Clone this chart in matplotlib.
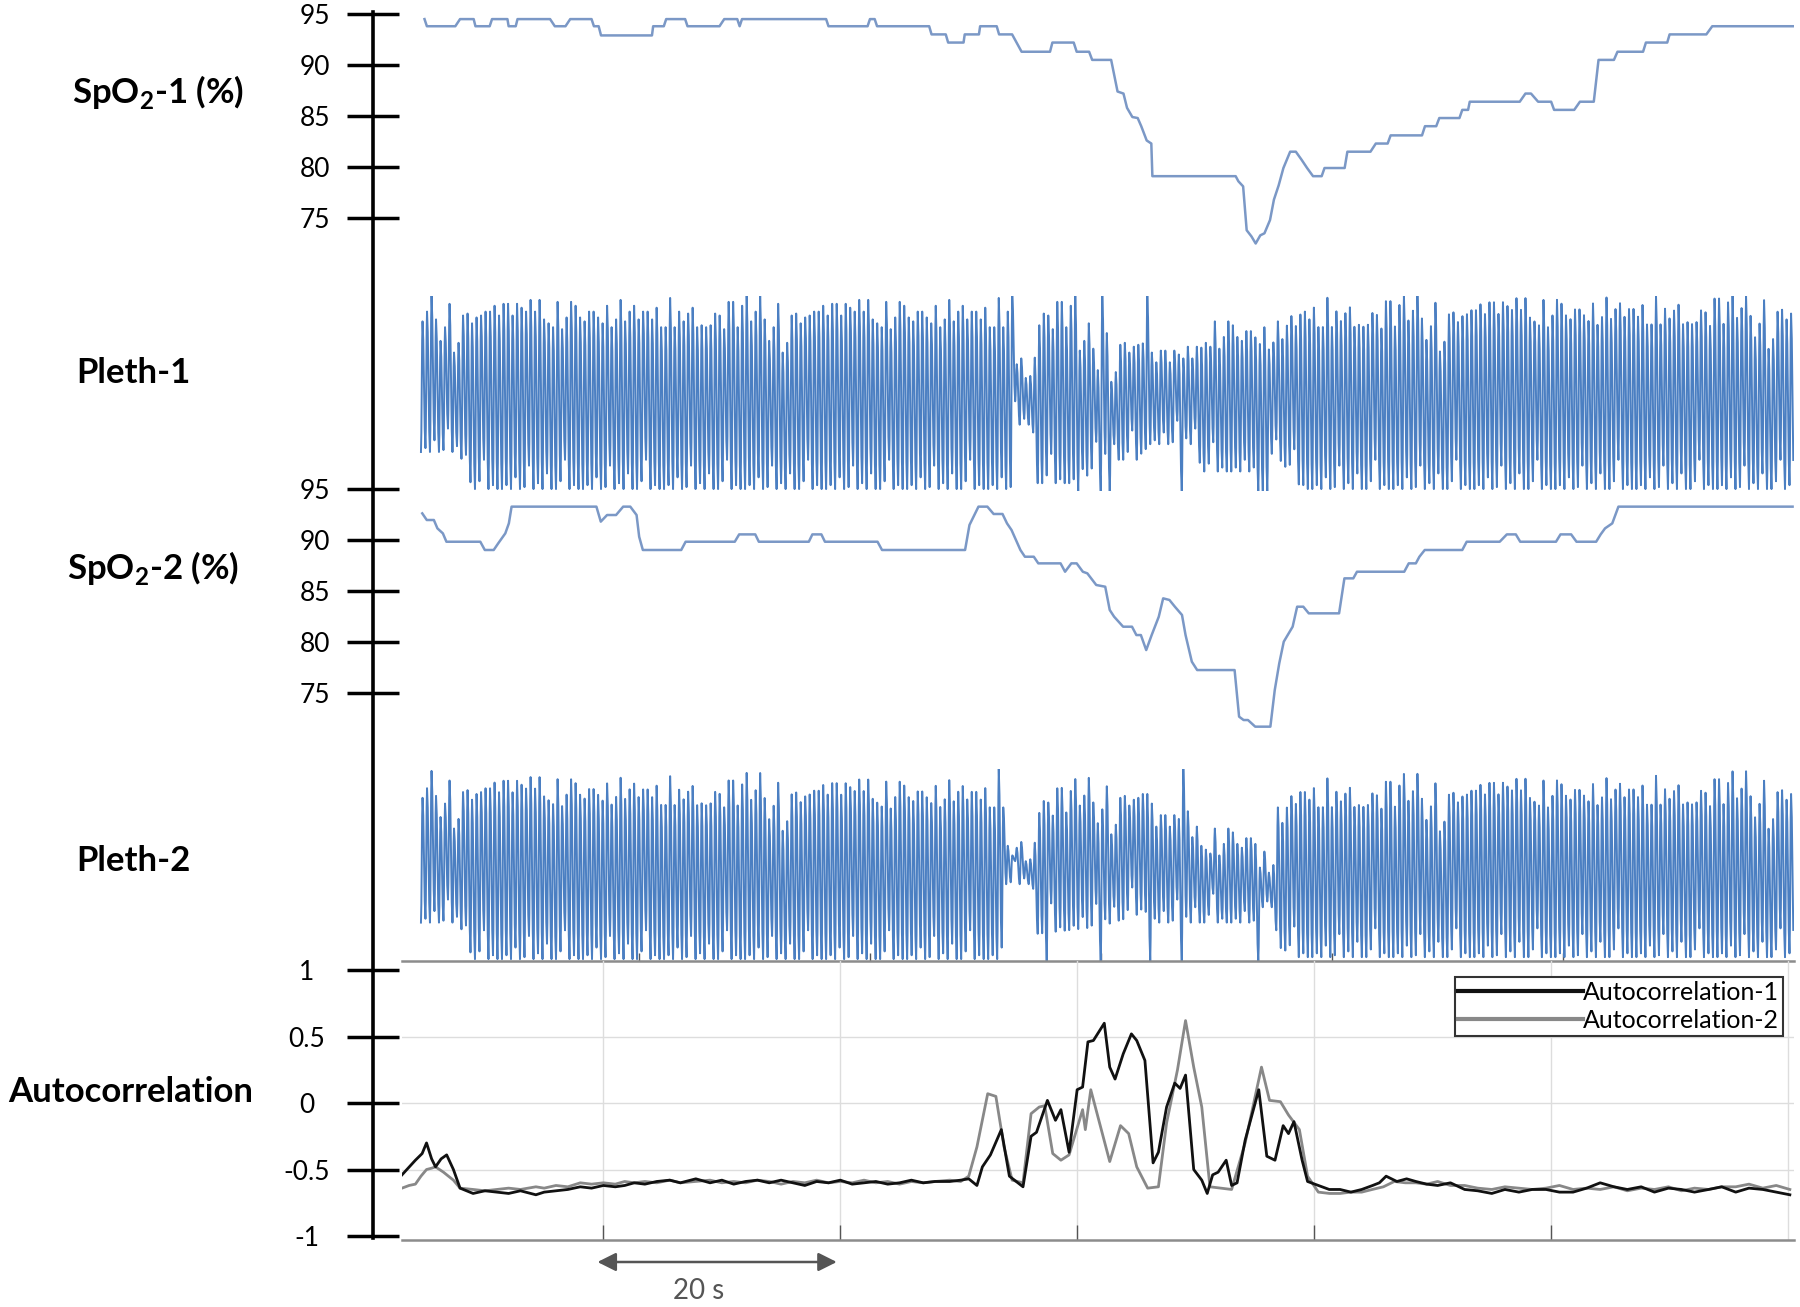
import numpy as np
import matplotlib.pyplot as plt
from matplotlib.lines import Line2D

plt.rcParams['font.family'] = ['Lato', 'DejaVu Sans']
plt.rcParams['mathtext.fontset'] = 'custom'
plt.rcParams['mathtext.rm'] = 'Lato'
plt.rcParams['mathtext.bf'] = 'Lato:bold'

W, H = 1800, 1307
T_END = 117.5

# ---- SpO2-1 (%) : time (s), value
spo2_1_t = [1.9, 2.1, 4.5, 4.9, 6.05, 6.2, 7.4, 7.6, 8.9, 9.0, 9.6, 9.75, 12.5, 12.9, 13.8, 14.2,
            16.0, 16.2, 16.6, 16.8, 21.1, 21.2, 22.1, 22.3, 23.9, 24.1, 26.8, 27.2, 28.3, 28.5, 28.7,
            35.8, 36.0, 39.3, 39.5, 39.9, 40.1, 44.5, 44.7, 45.9, 46.1, 47.4, 47.5, 48.7, 48.8, 50.2,
            50.4, 51.5, 52.3, 54.7, 54.9, 56.7, 56.95, 58.0, 58.26, 59.86, 60.4, 60.9, 61.2, 61.65,
            62.1, 62.4, 62.86, 63.25, 63.34, 70.37, 70.6, 71.0, 71.3, 71.7, 72.06, 72.45, 72.8, 73.27,
            73.6, 74.0, 74.4, 74.97, 75.45, 75.94, 76.4, 76.9, 77.63, 77.87, 79.57, 79.8, 81.75, 82.2,
            83.2, 83.45, 86.1, 86.35, 87.3, 87.56, 89.26, 89.5, 89.99, 90.13, 94.35, 94.83, 95.3,
            95.9, 97.0, 97.25, 98.95, 99.43, 100.6, 101.0, 102.3, 102.6, 104.76, 105.0, 106.8, 107.0,
            110.1, 110.6, 117.4]
spo2_1_v = [94.5, 93.8, 93.8, 94.5, 94.5, 93.8, 93.8, 94.5, 94.5, 93.8, 93.8, 94.5, 94.5, 93.8, 93.8, 94.5,
            94.5, 93.8, 93.8, 92.9, 92.9, 93.8, 93.8, 94.5, 94.5, 93.8, 93.8, 94.5, 94.5, 93.8, 94.5,
            94.5, 93.8, 93.8, 94.5, 94.5, 93.8, 93.8, 93.0, 93.0, 92.2, 92.2, 93.0, 93.0, 93.8, 93.8,
            93.0, 93.0, 91.3, 91.3, 92.2, 92.2, 91.3, 91.3, 90.5, 90.5, 87.4, 87.2, 85.8, 84.9,
            84.8, 84.0, 82.6, 82.3, 79.1, 79.1, 78.6, 78.1, 73.8, 73.2, 72.5, 73.3, 73.5, 74.8,
            76.8, 78.2, 79.9, 81.5, 81.5, 80.7, 79.9, 79.1, 79.1, 79.9, 79.9, 81.5, 81.5, 82.3,
            82.3, 83.1, 83.1, 84.0, 84.0, 84.8, 84.8, 85.6, 85.6, 86.4, 86.4, 87.2, 87.2,
            86.4, 86.4, 85.6, 85.6, 86.4, 86.4, 90.5, 90.5, 91.3, 91.3, 92.2, 92.2, 93.0,
            93.0, 93.8, 93.8]

# ---- SpO2-2 (%)
spo2_2_t = [1.71, 2.09, 2.69, 2.99, 3.45, 3.75, 6.61, 6.99, 7.74, 8.12, 8.72, 9.02, 9.25, 16.41, 16.78,
            17.31, 18.07, 18.67, 19.27, 19.80, 20.02, 20.33, 23.57, 23.94, 28.09, 28.46, 29.82, 30.12,
            34.34, 34.64, 35.40, 35.70, 40.14, 40.52, 47.53, 47.90, 48.66, 49.41, 49.94, 50.69, 51.07,
            51.45, 52.20, 52.58, 53.33, 53.71, 55.59, 55.97, 56.50, 56.95, 57.47, 57.85, 58.60, 59.36,
            59.74, 60.11, 60.87, 61.62, 61.99, 62.37, 62.82, 63.28, 63.88, 64.25, 64.78, 65.24, 65.84,
            66.14, 66.67, 67.12, 70.28, 70.66, 71.04, 71.41, 72.02, 73.30, 73.67, 74.05, 74.43, 75.18,
            75.56, 76.08, 76.54, 79.10, 79.55, 80.30, 80.61, 84.60, 84.98, 85.58, 85.88, 86.33, 89.50,
            89.87, 92.66, 93.26, 94.02, 94.39, 97.41, 97.79, 98.69, 99.14, 100.80, 101.18, 101.55,
            102.16, 102.68, 117.38]
spo2_2_v = [92.61, 91.96, 91.96, 91.14, 90.65, 89.83, 89.83, 89.02, 89.02, 89.67, 90.65, 91.63, 93.27, 93.27, 91.80,
            92.45, 92.45, 93.27, 93.27, 92.45, 90.32, 89.02, 89.02, 89.83, 89.83, 90.55, 90.55, 89.83,
            89.83, 90.55, 90.55, 89.83, 89.83, 89.02, 89.02, 91.47, 93.27, 93.27, 92.55, 92.55, 91.63,
            90.98, 89.02, 88.36, 88.36, 87.71, 87.71, 86.89, 87.71, 87.71, 86.89, 86.73, 85.59, 85.42,
            83.14, 82.48, 81.50, 81.50, 80.68, 80.68, 79.21, 80.68, 82.48, 84.28, 84.12, 83.46, 82.65,
            80.68, 78.07, 77.25, 77.25, 72.68, 72.35, 72.35, 71.70, 71.70, 75.29, 77.91, 80.03, 81.50,
            83.46, 83.46, 82.81, 82.81, 86.24, 86.24, 86.89, 86.89, 87.71, 87.71, 88.36, 89.02, 89.02,
            89.83, 89.83, 90.55, 90.55, 89.83, 89.83, 90.55, 90.55, 89.83, 89.83, 90.55, 91.14,
            91.63, 93.27, 93.27]

# ---- Pleth envelopes (fraction of panel height): time, upper, lower
pleth1_env_t = [1.6, 4.8, 6.0, 50.5, 51.4, 51.6, 53.2, 53.4, 56.7, 57.0, 59.0, 62.3, 63.0, 67.0, 67.5, 71.7, 73.6, 76.0, 117.2]
pleth1_env_top = [0.90, 0.90, 0.90, 0.90, 0.90, 0.64, 0.64, 0.90, 0.90, 0.75, 0.75, 0.75, 0.66, 0.66, 0.80, 0.80, 0.78, 0.90, 0.92]
pleth1_env_bot = [0.20, 0.20, 0.01, 0.01, 0.01, 0.34, 0.34, 0.04, 0.04, 0.02, 0.16, 0.16, 0.24, 0.24, 0.10, 0.10, 0.20, 0.01, 0.01]
pleth1_spikes = [51.3, 58.9, 62.7]
pleth1_drops = [57.1, 58.8, 59.9, 65.9, 72.2, 72.7, 73.1]

pleth2_env_t = [1.6, 4.8, 6.0, 50.3, 50.8, 51.0, 53.2, 53.4, 59.0, 63.0, 63.3, 66.3, 66.6, 72.0, 72.3, 73.5, 73.8, 75.6, 117.2]
pleth2_env_top = [0.88, 0.88, 0.88, 0.86, 0.86, 0.58, 0.58, 0.82, 0.85, 0.85, 0.70, 0.70, 0.62, 0.62, 0.52, 0.52, 0.72, 0.86, 0.88]
pleth2_env_bot = [0.20, 0.20, 0.01, 0.01, 0.01, 0.40, 0.40, 0.14, 0.18, 0.26, 0.20, 0.20, 0.20, 0.20, 0.28, 0.28, 0.08, 0.02, 0.02]
pleth2_spikes = [50.4, 65.9]
pleth2_drops = [54.4, 59.1, 63.0, 65.9, 72.2]

beat_period = 0.38
peak_heights = [0.86, 0.91, 1.0, 0.87, 0.76, 0.83, 0.95, 0.70, 0.75, 0.89, 0.90, 0.85, 0.88, 0.89, 0.91, 0.91,
                0.94, 0.89, 0.95, 0.95, 0.89, 0.95, 0.93, 0.91, 0.97, 0.91, 0.97, 0.87, 0.85, 0.83, 0.96, 0.82,
                0.88, 0.96, 0.94, 0.88, 0.86, 0.91, 0.91, 0.88, 0.85, 0.94, 0.83, 0.87, 0.97, 0.86, 0.91, 0.94,
                0.87, 0.91, 0.91, 0.87, 0.93, 0.83, 0.83, 0.98, 0.83, 0.91, 0.86, 0.90, 0.93, 0.83, 0.84, 0.83,
                0.84, 0.90, 0.89, 0.82, 0.96, 0.96, 0.83, 0.94, 1.0]
trough_depths = [0.0, 0.02, 0.0, 0.06, 0.0, 0.01, 0.12, 0.0, 0.03, 0.0, 0.08, 0.0, 0.0, 0.04, 0.15, 0.0, 0.02, 0.0]

# ---- Autocorrelation
ac1_t = [0, 1.13, 1.7, 2.07, 2.5, 2.83, 3.3, 3.77, 4.34, 4.9, 6, 7, 8, 9, 10, 11.3, 12, 13, 14, 15.05,
         16, 17, 18, 18.8, 19.6, 20.5, 21.5, 22.6, 23.5, 24.8, 26, 27, 28, 29, 30, 31, 32, 33, 34, 35,
         36, 37, 38, 39, 40, 41, 42, 43, 44, 45,
         46.24, 47.16, 47.84, 48.53, 48.99, 49.67, 50.59, 51.27, 52.42, 53.1, 53.56, 54.48, 55.16, 55.62,
         56.31, 56.99, 57.45, 57.9, 58.36, 59.28, 59.74, 60.19, 60.88, 61.57, 62.02, 62.71, 63.40, 63.85,
         64.54, 65.23, 65.68, 66.14, 66.83, 67.51, 67.97, 68.43, 68.89, 69.57, 70.03, 70.49, 71.17, 72.32,
         73.0, 73.69, 74.38, 74.83, 75.29, 75.98, 76.44, 77.35,
         78.27, 79.18, 80.1, 81.01, 81.93, 82.5, 83.07, 83.98, 84.8, 85.58, 86.5, 87.42, 88.5, 89.7, 90.8,
         91.99, 93.1, 94.28, 95.4, 96.57, 97.7, 98.85, 100.0, 101.14, 102.3, 103.43, 104.6, 105.72, 106.9,
         108.0, 109.1, 110.29, 111.4, 112.58, 113.7, 114.87, 116.0, 117.15]
ac1_v = [-0.54, -0.43, -0.38, -0.30, -0.42, -0.48, -0.42, -0.39, -0.50, -0.64, -0.68, -0.66, -0.67, -0.68,
         -0.66, -0.69, -0.67, -0.66, -0.65, -0.63, -0.64, -0.62, -0.63, -0.62, -0.60, -0.61, -0.59, -0.58,
         -0.60, -0.57, -0.60, -0.58, -0.61, -0.59, -0.58, -0.60, -0.58, -0.60, -0.62, -0.59, -0.60, -0.58,
         -0.61, -0.60, -0.59, -0.61, -0.60, -0.58, -0.60, -0.59,
         -0.59, -0.58, -0.57, -0.62, -0.48, -0.39, -0.20, -0.55, -0.63, -0.25, -0.22, 0.02, -0.13, -0.05,
         -0.37, 0.10, 0.12, 0.46, 0.47, 0.60, 0.27, 0.18, 0.37, 0.52, 0.47, 0.32, -0.45, -0.37,
         -0.03, 0.15, 0.11, 0.21, -0.50, -0.58, -0.68, -0.54, -0.52, -0.43, -0.62, -0.60, -0.28, 0.10,
         -0.40, -0.43, -0.17, -0.23, -0.14, -0.43, -0.59, -0.62,
         -0.65, -0.65, -0.67, -0.65, -0.62, -0.60, -0.55, -0.59, -0.57, -0.59, -0.61, -0.62, -0.60, -0.65,
         -0.66, -0.68, -0.65, -0.67, -0.65, -0.65, -0.67, -0.67, -0.64, -0.60, -0.63, -0.65, -0.63, -0.67,
         -0.64, -0.65, -0.67, -0.65, -0.63, -0.67, -0.64, -0.65, -0.67, -0.69]

ac2_t = [0, 0.6, 1.13, 1.6, 2.07, 2.5, 2.83, 3.5, 4.34, 4.9, 6, 7, 8, 9, 10, 11.3, 12, 13, 14, 15.05,
         16, 17, 18, 18.8, 19.6, 20.5, 21.5, 22.6, 23.5, 24.8, 26, 27, 28, 29, 30, 31, 32, 33, 34, 35,
         36, 37, 38, 39, 40, 41, 42, 43, 44, 45,
         46.24, 47.16, 47.84, 48.53, 49.44, 50.13, 50.82, 51.5, 52.42, 53.1, 53.79, 54.25, 54.93, 55.62,
         56.31, 57.45, 57.68, 58.14, 58.82, 59.74, 60.65, 61.34, 62.02, 62.94, 63.85, 64.54, 65.46, 66.14,
         66.83, 67.51, 68.2, 69.12, 70.03, 71.17, 72.55, 73.23, 74.15, 74.83, 75.75, 76.44,
         77.35, 78.3, 79.18, 80.1, 81.01, 81.9, 82.84, 83.76, 84.7, 85.58, 86.5, 87.42, 88.5, 89.7, 90.8,
         91.99, 93.1, 94.3, 95.4, 96.57, 97.7, 98.85, 100.0, 101.14, 102.3, 103.43, 104.6, 105.72, 106.9,
         108.0, 109.1, 110.29, 111.4, 112.58, 113.7, 114.87, 116.0, 117.15]
ac2_v = [-0.64, -0.62, -0.61, -0.55, -0.50, -0.49, -0.48, -0.52, -0.58, -0.64, -0.65, -0.66, -0.65, -0.64,
         -0.65, -0.63, -0.64, -0.62, -0.63, -0.60, -0.61, -0.60, -0.61, -0.59, -0.60, -0.59, -0.60, -0.58,
         -0.60, -0.59, -0.58, -0.60, -0.59, -0.60, -0.58, -0.59, -0.61, -0.59, -0.60, -0.58, -0.60, -0.59,
         -0.60, -0.58, -0.60, -0.59, -0.61, -0.59, -0.60, -0.59,
         -0.58, -0.59, -0.55, -0.33, 0.07, 0.05, -0.33, -0.58, -0.60, -0.08, -0.03, -0.02, -0.38, -0.43,
         -0.39, -0.05, -0.20, 0.10, -0.13, -0.44, -0.17, -0.23, -0.48, -0.64, -0.63, -0.15, 0.25, 0.62,
         0.27, -0.03, -0.63, -0.64, -0.65, -0.30, 0.27, 0.02, 0.01, -0.09, -0.20, -0.55,
         -0.67, -0.68, -0.68, -0.67, -0.67, -0.65, -0.63, -0.59, -0.60, -0.60, -0.61, -0.59, -0.62, -0.62,
         -0.64, -0.65, -0.63, -0.64, -0.65, -0.64, -0.62, -0.65, -0.64, -0.65, -0.63, -0.66, -0.64, -0.65,
         -0.63, -0.66, -0.64, -0.65, -0.63, -0.63, -0.61, -0.64, -0.62, -0.65]

ac_grid_t = [17, 37, 57, 77, 97, 117]
ac_tick_t = [17, 37, 57, 77, 97]
pleth2_tick_t = [20, 39.5, 59, 78.5, 98]

PLETH_C = '#4b7fc2'
SPO2_C = '#7b98c6'


def px_axes(x0, y0, x1, y1):
    return fig.add_axes([x0 / W, 1 - y1 / H, (x1 - x0) / W, (y1 - y0) / H])


def pleth_trace(env_t, env_top, env_bot, spikes, drops, t0, t1):
    beats = np.arange(t0, t1, beat_period)
    tops, bots = [], []
    for i, tb in enumerate(beats):
        top = np.interp(tb, env_t, env_top) + peak_heights[i % len(peak_heights)] - 0.89
        bot = np.interp(tb, env_t, env_bot) + trough_depths[i % len(trough_depths)]
        if any(abs(tb - s) < beat_period / 2 for s in spikes):
            top = 1.0
        if any(abs(tb - s) < beat_period / 2 for s in drops):
            bot = 0.0
        tops.append(min(top, 1.0))
        bots.append(max(bot, 0.0))
    bots.append(bots[-1])
    ph = np.linspace(0, 1, 5)[:-1]
    ease = (1 - np.cos(np.pi * ph)) / 2
    xs, ys = [], []
    for i, tb in enumerate(beats):
        xs.extend(tb + 0.35 * beat_period * ph)
        ys.extend(bots[i] + (tops[i] - bots[i]) * ease)
        xs.extend(tb + 0.35 * beat_period + 0.65 * beat_period * ph)
        ys.extend(tops[i] + (bots[i + 1] - tops[i]) * ease)
    return np.array(xs), np.array(ys)


fig = plt.figure(figsize=(W / 100, H / 100), dpi=100)

tick_kw = dict(direction='inout', length=37.4, width=2.5, color='black', labelsize=19)

# SpO2-1
ax1 = px_axes(402, 14, 1794, 269)
ax1.plot(spo2_1_t, spo2_1_v, color=SPO2_C, lw=1.8)
ax1.set_ylim(70, 95)
ax1.set_yticks([75, 80, 85, 90, 95])

# Pleth-1
ax2 = px_axes(402, 296, 1794, 491)
x, y = pleth_trace(pleth1_env_t, pleth1_env_top, pleth1_env_bot, pleth1_spikes, pleth1_drops, 1.6, 117.2)
ax2.plot(x, y, color=PLETH_C, lw=1.4)
ax2.set_ylim(0, 1)

# SpO2-2
ax3 = px_axes(402, 489, 1794, 744)
ax3.plot(spo2_2_t, spo2_2_v, color=SPO2_C, lw=1.8)
ax3.set_ylim(70, 95)
ax3.set_yticks([75, 80, 85, 90, 95])

# Pleth-2
ax4 = px_axes(402, 769, 1794, 961)
x, y = pleth_trace(pleth2_env_t, pleth2_env_top, pleth2_env_bot, pleth2_spikes, pleth2_drops, 1.6, 117.2)
ax4.plot(x, y, color=PLETH_C, lw=1.4)
ax4.set_ylim(0, 1)
ax4.set_xticks(pleth2_tick_t)
ax4.tick_params(axis='x', direction='in', length=6, width=1, color='#555555', labelbottom=False)

# Autocorrelation
ax5 = px_axes(402, 961, 1794, 1240)
for g in ac_grid_t:
    ax5.axvline(g, color='#dddddd', lw=1, zorder=0)
for g in [-0.5, 0, 0.5]:
    ax5.axhline(g, color='#dddddd', lw=1, zorder=0)
ax5.plot(ac2_t, ac2_v, color='#888888', lw=2, label='Autocorrelation-2', zorder=2)
ax5.plot(ac1_t, ac1_v, color='#111111', lw=2, label='Autocorrelation-1', zorder=3)
ax5.set_ylim(-1.03, 1.068)
ax5.set_yticks([-1, -0.5, 0, 0.5, 1])
ax5.set_yticklabels(['-1', '-0.5', '0', '0.5', '1'])
ax5.set_xticks(ac_tick_t)
ax5.tick_params(axis='x', direction='in', length=11, width=1, color='#555555', labelbottom=False)

for ax in (ax1, ax2, ax3, ax4, ax5):
    ax.set_xlim(0, T_END)
    for s in ('top', 'right', 'left'):
        ax.spines[s].set_visible(False)
    ax.spines['left'].set_position(('outward', 20.9))
    ax.patch.set_alpha(0)
for ax in (ax1, ax2, ax3):
    ax.spines['bottom'].set_visible(False)
    ax.set_xticks([])
for ax in (ax4, ax5):
    ax.spines['bottom'].set_color('#8c8c8c')
    ax.spines['bottom'].set_linewidth(1.8)
for ax in (ax2, ax4):
    ax.set_yticks([])

for ax in (ax1, ax3):
    ax.tick_params(axis='y', pad=12, **tick_kw)
ax5.tick_params(axis='y', pad=29, **tick_kw)
for lbl in ax5.get_yticklabels():
    lbl.set_ha('center')

handles, labels = ax5.get_legend_handles_labels()
leg = ax5.legend(handles[::-1], labels[::-1], loc='upper right',
                 bbox_to_anchor=(1783 / W, 1 - 977 / H), bbox_transform=fig.transFigure,
                 fontsize=18, handlelength=5.0, handletextpad=0.0, borderpad=0.15,
                 labelspacing=0.2, fancybox=False, framealpha=1, borderaxespad=0)
leg.get_frame().set_edgecolor('#333333')
leg.get_frame().set_linewidth(1.5)
for h in leg.get_lines():
    h.set_linewidth(3)

# main black axis line
fig.add_artist(Line2D([373 / W, 373 / W], [1 - 12 / H, 1 - 1238 / H], color='black', lw=2.6,
                      transform=fig.transFigure))

# panel labels
lab_kw = dict(fontsize=25, fontweight='bold', ha='center', va='center')
fig.text(158 / W, 1 - 92 / H, r'SpO$_{\mathbf{2}}$-1 (%)', **lab_kw)
fig.text(133 / W, 1 - 373 / H, 'Pleth-1', **lab_kw)
fig.text(153 / W, 1 - 568 / H, r'SpO$_{\mathbf{2}}$-2 (%)', **lab_kw)
fig.text(133 / W, 1 - 861 / H, 'Pleth-2', **lab_kw)
fig.text(131 / W, 1 - 1092 / H, 'Autocorrelation', **lab_kw)

# 20 s scale bar
ax5.annotate('', xy=(16.5, 1 - 1262 / H), xytext=(36.7, 1 - 1262 / H),
             xycoords=('data', 'figure fraction'), textcoords=('data', 'figure fraction'),
             arrowprops=dict(arrowstyle='<|-|>', color='#555555', lw=1.8, mutation_scale=28,
                             shrinkA=0, shrinkB=0))
ax5.annotate('20 s', xy=(25.0, 1 - 1291 / H), xycoords=('data', 'figure fraction'),
             ha='center', va='center', fontsize=20, color='#555555')

fig.savefig('out.png', dpi=100)
